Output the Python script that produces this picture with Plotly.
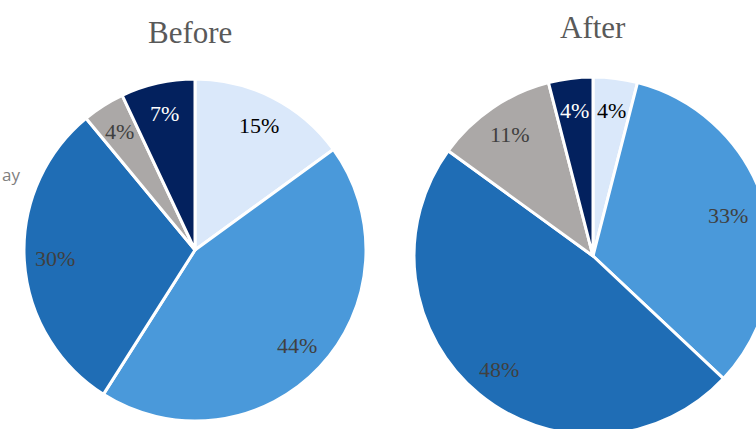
import math
import plotly.graph_objects as go

# ---- data ----
slice_names = ["Light", "Medium", "Blue", "Gray", "Navy"]
before_values = [15, 44, 30, 4, 7]
after_values = [4, 33, 48, 11, 4]
titles = ["Before", "After"]
colors = ["#DAE8FA", "#4A99DA", "#1F6DB5", "#ABA8A7", "#03215E"]
text_colors = ["#000000", "#404040", "#404040", "#404040", "#FFFFFF"]

# ---- canvas ----
W, H = 780, 440
VIEW_W = 756
pies = [
    dict(values=before_values, cx=195, cy=250, r=171, title=titles[0], tx=190, ty=32),
    dict(values=after_values, cx=593, cy=256, r=179, title=titles[1], tx=593, ty=28),
]

fig = go.Figure()
annotations = []
for p in pies:
    cx, cy, r = p["cx"], p["cy"], p["r"]
    fig.add_trace(go.Pie(
        labels=slice_names,
        values=p["values"],
        sort=False,
        direction="clockwise",
        rotation=0,
        marker=dict(colors=colors, line=dict(color="white", width=3)),
        textinfo="none",
        hoverinfo="label+percent",
        domain=dict(x=[(cx - r) / W, (cx + r) / W],
                    y=[1 - (cy + r) / H, 1 - (cy - r) / H]),
        showlegend=False,
    ))
    total = sum(p["values"])
    cum = 0
    for v, tc in zip(p["values"], text_colors):
        mid = (cum + v / 2) / total * 2 * math.pi
        cum += v
        px = cx + 0.82 * r * math.sin(mid)
        py = cy - 0.82 * r * math.cos(mid)
        px = min(px, VIEW_W - 28)  # keep label inside the visible area
        annotations.append(dict(
            x=px / W, y=1 - py / H, xref="paper", yref="paper",
            xanchor="center", yanchor="middle",
            text=f"{round(v / total * 100)}%", showarrow=False,
            font=dict(family="Liberation Serif", size=22, color=tc),
        ))
    annotations.append(dict(
        x=p["tx"] / W, y=1 - p["ty"] / H, xref="paper", yref="paper",
        xanchor="center", yanchor="middle",
        text=p["title"], showarrow=False,
        font=dict(family="Liberation Serif", size=31, color="#595959"),
    ))

annotations.append(dict(
    x=0 / W, y=1 - 174 / H, xref="paper", yref="paper",
    xanchor="left", yanchor="middle",
    text="ay", showarrow=False,
    font=dict(family="Open Sans", size=17, color="#7F7F7F"),
))

fig.update_layout(
    width=W, height=H,
    margin=dict(l=0, r=0, t=0, b=0),
    paper_bgcolor="white", plot_bgcolor="white",
    annotations=annotations,
)

fig.write_html(
    "out.html",
    post_script="document.body.style.margin='0';document.body.style.overflow='hidden';document.documentElement.style.overflow='hidden';",
)
